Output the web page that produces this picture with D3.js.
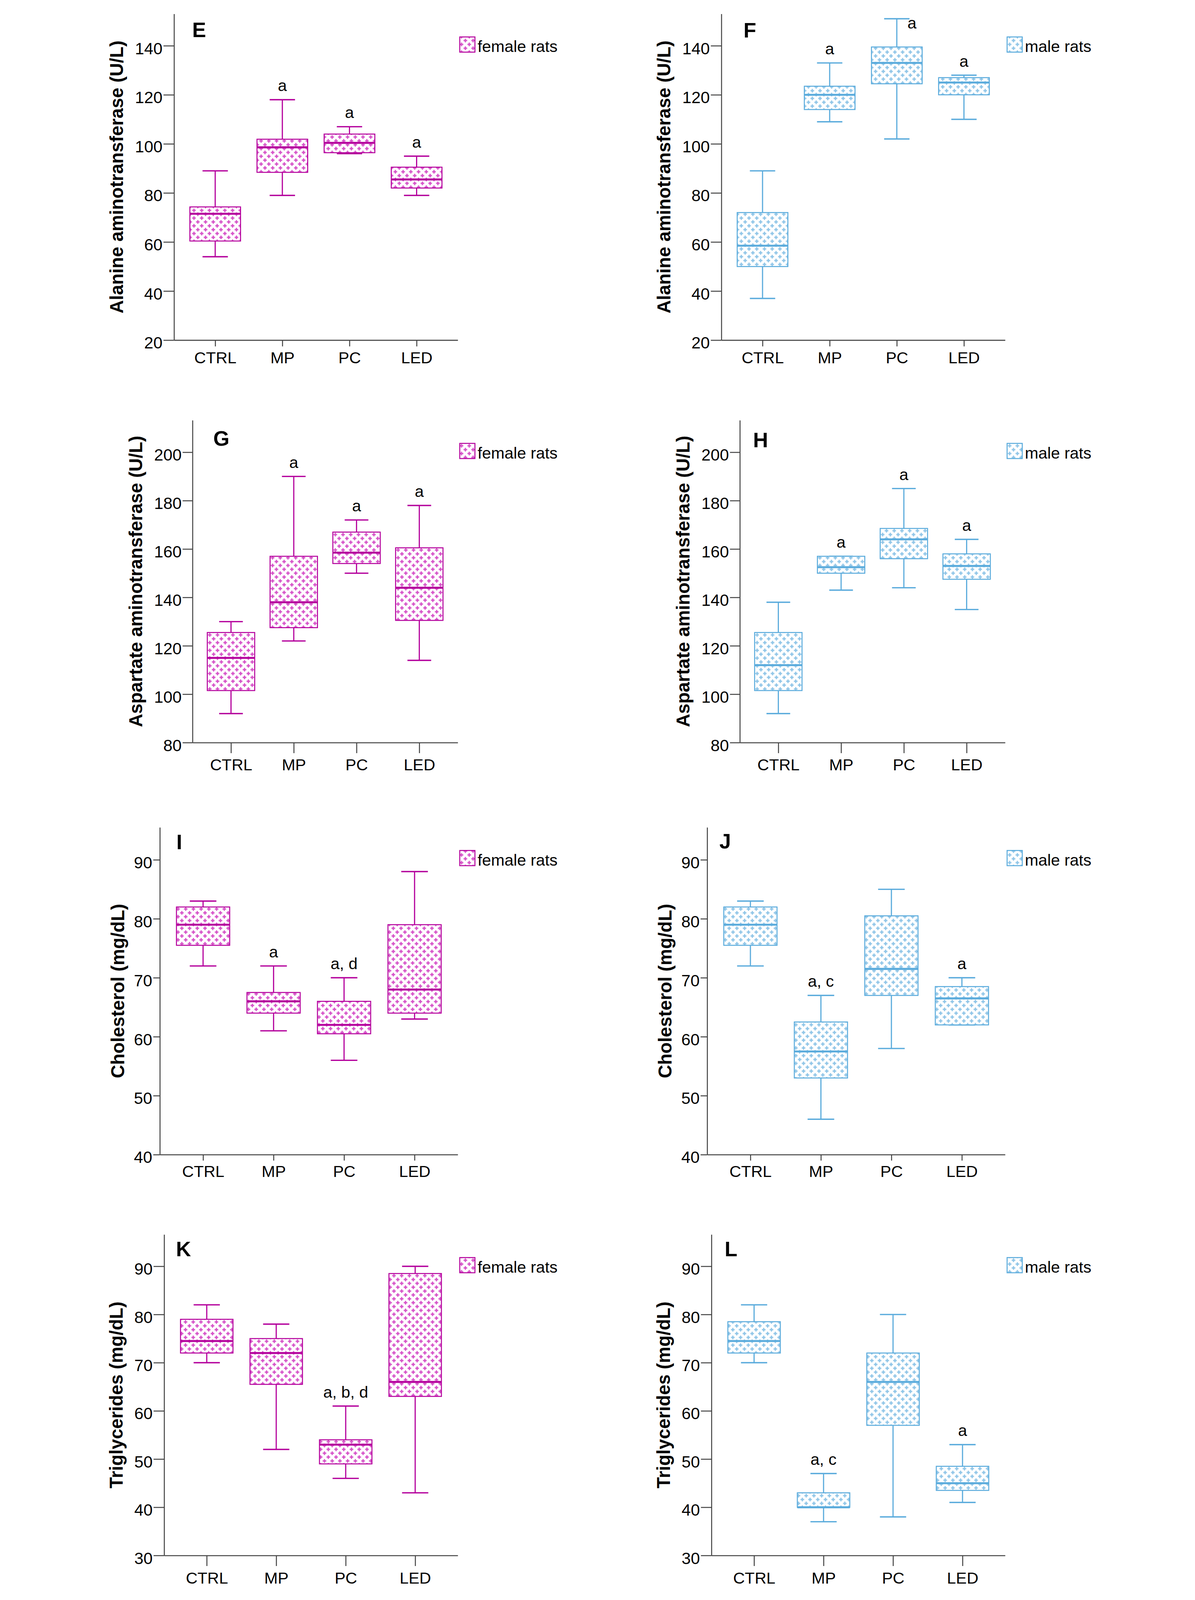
<!DOCTYPE html>
<html>
<head>
<meta charset="utf-8">
<script src="https://cdnjs.cloudflare.com/ajax/libs/d3/7.8.5/d3.min.js"></script>
<style>
  html, body { margin: 0; padding: 0; background: #fff; overflow: hidden; }
  svg { display: block; width: 100vw; height: 100vh; }
  svg text { font-family: "Liberation Sans", Arial, sans-serif; fill: #000; }
</style>
</head>
<body>
<svg id="fig" viewBox="0 0 3059 4850" preserveAspectRatio="xMidYMid meet"></svg>
<script>
// groups on the x axis
const groups = ["CTRL", "MP", "PC", "LED"];

// box values per group: [min, q1, median, q3, max]
const altFemale  = [[54, 60.4, 71.5, 74.3, 89], [79, 88.4, 98.6, 101.9, 118], [96, 96.4, 100.4, 104, 107], [79, 82, 85.5, 90.5, 95]];
const altMale    = [[37, 50, 58.5, 72, 89], [109, 114, 120, 123.5, 133], [102, 124.5, 133, 139.5, 151], [110, 120, 125, 127, 128]];
const astFemale  = [[92, 101.5, 115, 125.5, 130], [122, 127.5, 138, 157, 190], [150, 154, 158.5, 167, 172], [114, 130.5, 144, 160.5, 178]];
const astMale    = [[92, 101.5, 112, 125.5, 138], [143, 150, 152.5, 157, 157], [144, 156, 164, 168.5, 185], [135, 147.5, 153, 158, 164]];
const cholFemale = [[72, 75.5, 79, 82, 83], [61, 64, 66, 67.5, 72], [56, 60.5, 62, 66, 70], [63, 64, 68, 79, 88]];
const cholMale   = [[72, 75.5, 79, 82, 83], [46, 53, 57.5, 62.5, 67], [58, 67, 71.5, 80.5, 85], [62, 62, 66.5, 68.5, 70]];
const tgFemale   = [[70, 72, 74.5, 79, 82], [52, 65.5, 72, 75, 78], [46, 49, 53, 54, 61], [43, 63, 66, 88.5, 90]];
const tgMale     = [[70, 72, 74.5, 78.5, 82], [37, 40, 40, 43, 47], [38, 57, 66, 72, 80], [41, 43.5, 45, 48.5, 53]];

// significance letters per group
const altFemaleSig  = ["", "a", "a", "a"];
const altMaleSig    = ["", "a", "a", "a"];
const astFemaleSig  = ["", "a", "a", "a"];
const astMaleSig    = ["", "a", "a", "a"];
const cholFemaleSig = ["", "a", "a, d", ""];
const cholMaleSig   = ["", "a, c", "", "a"];
const tgFemaleSig   = ["", "", "a, b, d", ""];
const tgMaleSig     = ["", "a, c", "", "a"];

// y axis ticks and ranges
const altTicks  = [20, 40, 60, 80, 100, 120, 140];
const astTicks  = [80, 100, 120, 140, 160, 180, 200];
const cholTicks = [40, 50, 60, 70, 80, 90];
const tgTicks   = [30, 40, 50, 60, 70, 80, 90];
const altDomain  = [20, 153];
const astDomain  = [80, 213.2];
const cholDomain = [40, 95.5];
const tgDomain   = [30, 96.6];

const titles = ["Alanine aminotransferase (U/L)", "Aspartate aminotransferase (U/L)", "Cholesterol (mg/dL)", "Triglycerides (mg/dL)"];
const legendText = { female: "female rats", male: "male rats" };

// layout of each row of panels (left column; right column is shifted)
const rows = [
  { top: 42,   bottom: 1031, axisX: 246, titleX: 77,  xTick: 19, yTick: 32, xLab: 70, ticks: altTicks,  domain: altDomain },
  { top: 1274, bottom: 2251, axisX: 302, titleX: 135, xTick: 32, yTick: 30, xLab: 84, ticks: astTicks,  domain: astDomain },
  { top: 2508, bottom: 3500, axisX: 203, titleX: 80,  xTick: 18, yTick: 20, xLab: 68, ticks: cholTicks, domain: cholDomain },
  { top: 3742, bottom: 4715, axisX: 216, titleX: 76,  xTick: 32, yTick: 32, xLab: 85, ticks: tgTicks,   domain: tgDomain }
];
const plotRight = 1106;
const colShift = 1659;

const panels = [
  { id: "E", row: 0, col: 0, sex: "female", data: altFemale,  sig: altFemaleSig,  letterX: 301, letterY: 70 },
  { id: "F", row: 0, col: 1, sex: "male",   data: altMale,    sig: altMaleSig,    letterX: 313, letterY: 72 },
  { id: "G", row: 1, col: 0, sex: "female", data: astFemale,  sig: astFemaleSig,  letterX: 365, letterY: 77 },
  { id: "H", row: 1, col: 1, sex: "male",   data: astMale,    sig: astMaleSig,    letterX: 342, letterY: 82 },
  { id: "I", row: 2, col: 0, sex: "female", data: cholFemale, sig: cholFemaleSig, letterX: 253, letterY: 66 },
  { id: "J", row: 2, col: 1, sex: "male",   data: cholMale,   sig: cholMaleSig,   letterX: 240, letterY: 64 },
  { id: "K", row: 3, col: 0, sex: "female", data: tgFemale,   sig: tgFemaleSig,   letterX: 252, letterY: 66 },
  { id: "L", row: 3, col: 1, sex: "male",   data: tgMale,     sig: tgMaleSig,     letterX: 256, letterY: 66 }
];

const colors = {
  female: { line: "#b4009c", plus: "#d54ec7" },
  male:   { line: "#5aabdc", plus: "#8dc4e7" }
};

const svg = d3.select("#fig");
const defs = svg.append("defs");

// plus-sign fill pattern, SPSS style
const tile = 23.4;
Object.entries(colors).forEach(([k, c]) => {
  const p = defs.append("pattern")
    .attr("id", "hatch-" + k)
    .attr("patternUnits", "userSpaceOnUse")
    .attr("width", tile).attr("height", tile);
  p.append("rect").attr("width", tile).attr("height", tile).attr("fill", "#fff");
  [[tile / 4, tile / 4], [tile * 3 / 4, tile * 3 / 4]].forEach(([cx, cy]) => {
    p.append("rect").attr("x", cx - 5.5).attr("y", cy - 1.9).attr("width", 11).attr("height", 3.8).attr("fill", c.plus);
    p.append("rect").attr("x", cx - 1.9).attr("y", cy - 5.5).attr("width", 3.8).attr("height", 11).attr("fill", c.plus);
  });
});

function drawPanel(p) {
  const r = rows[p.row];
  const ox = p.col * colShift;
  const x0 = ox + r.axisX, x1 = ox + plotRight;
  const c = colors[p.sex];

  const y = d3.scaleLinear().domain(r.domain).range([r.bottom, r.top]);
  const x = d3.scalePoint().domain(groups).range([x0, x1]).padding(0.613);
  const bw = x.step() * 0.755;

  const g = svg.append("g").attr("class", "panel-" + p.id);

  // y axis
  const ya = g.append("g")
    .attr("transform", `translate(${x0},0)`)
    .call(d3.axisLeft(y).tickValues(r.ticks).tickSize(r.yTick).tickSizeOuter(0).tickPadding(3));
  ya.select(".domain").attr("stroke", "#444").attr("stroke-width", 3);
  ya.selectAll(".tick line").attr("stroke", "#444").attr("stroke-width", 3);
  ya.selectAll(".tick text").attr("font-size", 50).attr("dy", "0.5em").attr("fill", "#000");

  // x axis
  const xa = g.append("g")
    .attr("transform", `translate(0,${r.bottom})`)
    .call(d3.axisBottom(x).tickSize(r.xTick).tickSizeOuter(0));
  xa.select(".domain").attr("stroke", "#444").attr("stroke-width", 3);
  xa.selectAll(".tick line").attr("stroke", "#444").attr("stroke-width", 3);
  xa.selectAll(".tick text").attr("font-size", 49).attr("y", r.xLab).attr("dy", 0).attr("fill", "#000");

  // boxes
  const bx = g.selectAll(".box").data(p.data).enter().append("g").attr("class", "box")
    .attr("transform", (d, i) => `translate(${x(groups[i])},0)`);

  bx.append("line").attr("y1", d => y(d[4])).attr("y2", d => y(d[3]))
    .attr("stroke", c.line).attr("stroke-width", 3.5);
  bx.append("line").attr("y1", d => y(d[1])).attr("y2", d => y(d[0]))
    .attr("stroke", c.line).attr("stroke-width", 3.5);
  [0, 4].forEach(k => {
    bx.append("line")
      .attr("x1", -bw / 4).attr("x2", bw / 4)
      .attr("y1", d => y(d[k])).attr("y2", d => y(d[k]))
      .attr("stroke", c.line).attr("stroke-width", 4);
  });
  bx.append("rect")
    .attr("x", -bw / 2).attr("width", bw)
    .attr("y", d => y(d[3])).attr("height", d => y(d[1]) - y(d[3]))
    .attr("fill", `url(#hatch-${p.sex})`)
    .attr("stroke", c.line).attr("stroke-width", 3);
  bx.append("line")
    .attr("x1", -bw / 2).attr("x2", bw / 2)
    .attr("y1", d => y(d[2])).attr("y2", d => y(d[2]))
    .attr("stroke", c.line).attr("stroke-width", 6);

  // significance letters; moved beside the whisker when no room above
  bx.append("text")
    .attr("font-size", 49)
    .attr("text-anchor", "middle")
    .each(function(d, i) {
      const top = y(d[4]);
      const crowded = top - 26 - 36 < r.top;
      d3.select(this)
        .attr("x", crowded ? 46 : 0)
        .attr("y", crowded ? top + 29 : top - 26)
        .text(p.sig[i]);
    });

  // panel letter
  g.append("text")
    .attr("x", ox + p.letterX).attr("y", r.top + p.letterY)
    .attr("font-size", 63).attr("font-weight", "bold")
    .text(p.id);

  // y axis title
  const tx = ox + r.titleX + 14.5, ty = (r.top + r.bottom) / 2;
  g.append("text")
    .attr("transform", `translate(${tx},${ty}) rotate(-90)`)
    .attr("text-anchor", "middle")
    .attr("font-size", 56).attr("font-weight", "bold")
    .text(titles[p.row]);

  // legend
  const lx = x1 + 6, ly = r.top + 70;
  g.append("rect")
    .attr("x", lx).attr("y", ly).attr("width", 46).attr("height", 46)
    .attr("fill", `url(#hatch-${p.sex})`)
    .attr("stroke", c.line).attr("stroke-width", 3);
  g.append("text")
    .attr("x", lx + 54).attr("y", ly + 46)
    .attr("font-size", 49)
    .text(legendText[p.sex]);
}

panels.forEach(drawPanel);
</script>
</body>
</html>
